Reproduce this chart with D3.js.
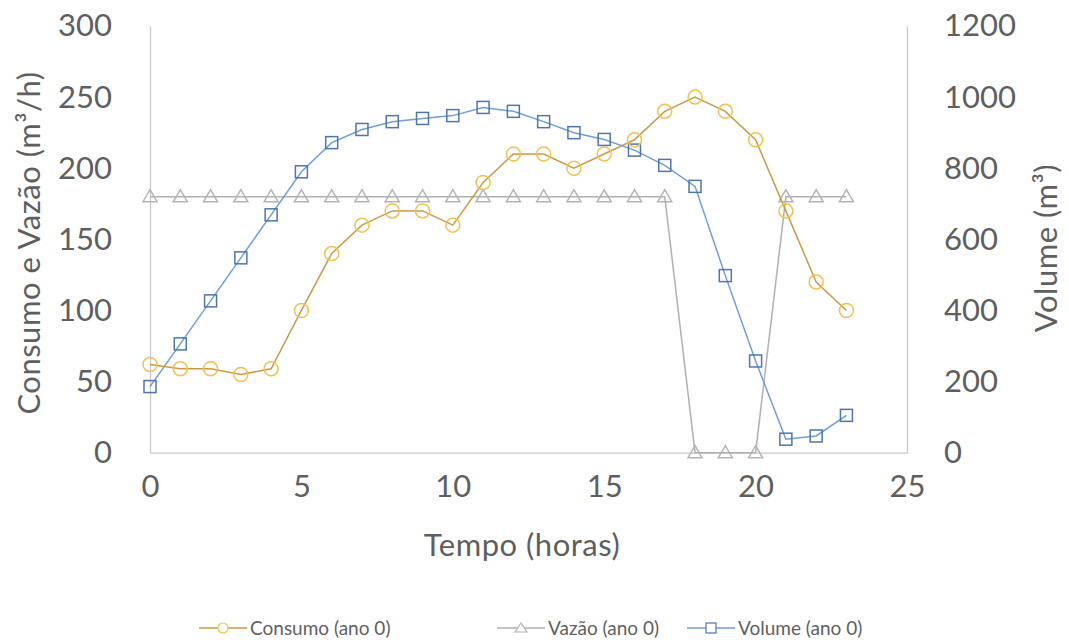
<!DOCTYPE html>
<html>
<head>
<meta charset="utf-8">
<script src="https://cdn.jsdelivr.net/npm/d3@7"></script>
<style>
  body { margin: 0; background: #fff; }
  svg { display: block; font-family: Lato, "Open Sans", sans-serif; }
</style>
</head>
<body>
<svg id="chart" width="1069" height="644"></svg>
<script>
// Hourly series (hours 0..23)
const hours = d3.range(0, 24);
const consumo = [62, 59, 59, 55, 59, 100, 140, 160, 170, 170, 160, 190, 210, 210, 200, 210, 220, 240, 250, 240, 220, 170, 120, 100];
const vazao = [180, 180, 180, 180, 180, 180, 180, 180, 180, 180, 180, 180, 180, 180, 180, 180, 180, 180, 0, 0, 0, 180, 180, 180];
const volume = [186, 306, 427, 548, 669, 790, 872, 909, 931, 940, 948, 971, 960, 931, 900, 881, 851, 808, 749, 498, 258, 38, 47, 105];

const xTicks = [0, 5, 10, 15, 20, 25];
const yLeftTicks = [0, 50, 100, 150, 200, 250, 300];
const yRightTicks = [0, 200, 400, 600, 800, 1000, 1200];

const legendLabels = ["Consumo (ano 0)", "Vazão (ano 0)", "Volume (ano 0)"];

const svg = d3.select("#chart");
const plot = { left: 150, right: 907, top: 26, bottom: 452.7 };

const x = d3.scaleLinear().domain([0, 25]).range([plot.left, plot.right]);
const yL = d3.scaleLinear().domain([0, 300]).range([plot.bottom, plot.top]);
const yR = d3.scaleLinear().domain([0, 1200]).range([plot.bottom, plot.top]);

const axisColor = "#c8c8c8";
const textColor = "#5f5f5f";

// Axes
const gx = svg.append("g").attr("transform", `translate(0,${plot.bottom})`)
  .call(d3.axisBottom(x).tickValues(xTicks).tickSize(0).tickPadding(22).tickFormat(d3.format("d")));
const gl = svg.append("g").attr("transform", `translate(${plot.left},0)`)
  .call(d3.axisLeft(yL).tickValues(yLeftTicks).tickSize(0).tickPadding(38).tickFormat(d3.format("d")));
const gr = svg.append("g").attr("transform", `translate(${plot.right},0)`)
  .call(d3.axisRight(yR).tickValues(yRightTicks).tickSize(0).tickPadding(37).tickFormat(d3.format("d")));

[gx, gl, gr].forEach(g => {
  g.select(".domain").attr("stroke", axisColor).attr("stroke-width", 1.3);
  g.selectAll("text").attr("fill", textColor).style("font-size", "31px").style("font-family", "Lato, sans-serif");
});
gx.selectAll("text").attr("dy", "0.71em");

// Axis titles
function title(transform, label) {
  svg.append("text")
    .attr("transform", transform)
    .attr("text-anchor", "middle").attr("fill", textColor)
    .style("font-size", "31px").style("letter-spacing", "0.5px")
    .text(label);
}
title("translate(40,243) rotate(-90)", "Consumo e Vazão (m³/h)");
title("translate(1057,248) rotate(-90)", "Volume (m³)");
title("translate(522,556)", "Tempo (horas)");

// Series styles
const series = [
  { name: legendLabels[0], values: consumo, y: yL, line: "#c99a45", marker: "#f2c14e", shape: "circle" },
  { name: legendLabels[1], values: vazao, y: yL, line: "#b0b0b0", marker: "#b3b3b3", shape: "triangle" },
  { name: legendLabels[2], values: volume, y: yR, line: "#6d9fd6", marker: "#4f75ad", shape: "square" }
];

function drawMarker(g, shape, cx, cy, color) {
  if (shape === "circle") {
    g.append("circle").attr("cx", cx).attr("cy", cy).attr("r", 7)
      .attr("fill", "none").attr("stroke", color).attr("stroke-width", 1.5);
  } else if (shape === "square") {
    g.append("rect").attr("x", cx - 6).attr("y", cy - 6).attr("width", 12).attr("height", 12)
      .attr("fill", "none").attr("stroke", color).attr("stroke-width", 1.5);
  } else {
    g.append("path")
      .attr("d", `M${cx},${cy - 7}L${cx + 7},${cy + 5}L${cx - 7},${cy + 5}Z`)
      .attr("fill", "none").attr("stroke", color).attr("stroke-width", 1.5);
  }
}

// Draw order: Vazão, Volume, Consumo on top
[series[1], series[2], series[0]].forEach(s => {
  const g = svg.append("g");
  const line = d3.line().x((d, i) => x(hours[i])).y(d => s.y(d));
  g.append("path").datum(s.values).attr("d", line)
    .attr("fill", "none").attr("stroke", s.line).attr("stroke-width", 1.5);
  s.values.forEach((v, i) => drawMarker(g, s.shape, x(hours[i]), s.y(v), s.marker));
});

// Legend
const legendY = 628;
const legendX = [199, 497, 687];
series.forEach((s, k) => {
  const g = svg.append("g");
  const x0 = legendX[k];
  g.append("line").attr("x1", x0).attr("x2", x0 + 48).attr("y1", legendY).attr("y2", legendY)
    .attr("stroke", s.line).attr("stroke-width", 1.5);
  const cx = x0 + 24;
  if (s.shape === "circle") {
    g.append("circle").attr("cx", cx).attr("cy", legendY).attr("r", 5)
      .attr("fill", "#fff").attr("stroke", s.marker).attr("stroke-width", 1.2);
  } else if (s.shape === "square") {
    g.append("rect").attr("x", cx - 5).attr("y", legendY - 5).attr("width", 10).attr("height", 10)
      .attr("fill", "#fff").attr("stroke", s.marker).attr("stroke-width", 1.2);
  } else {
    g.append("path").attr("d", `M${cx},${legendY - 5}L${cx + 6},${legendY + 4}L${cx - 6},${legendY + 4}Z`)
      .attr("fill", "#fff").attr("stroke", s.marker).attr("stroke-width", 1.2);
  }
  g.append("text").attr("x", x0 + 51).attr("y", legendY).attr("dy", "0.35em")
    .attr("fill", textColor).style("font-size", "19px").text(s.name);
});
</script>
</body>
</html>
